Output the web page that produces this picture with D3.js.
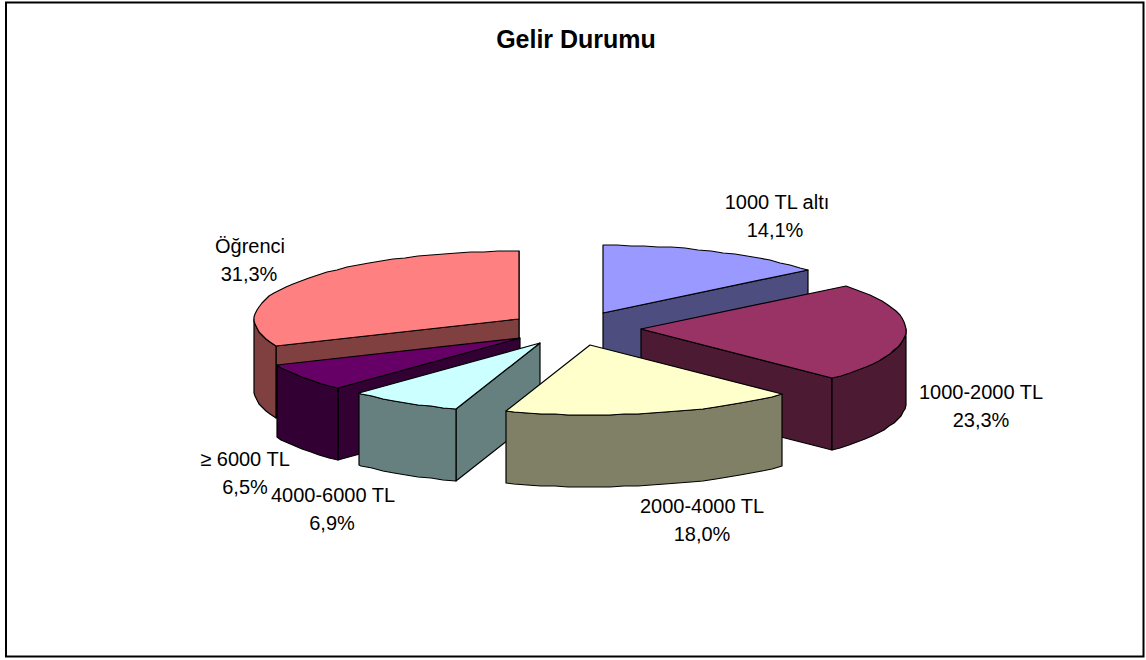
<!DOCTYPE html>
<html><head><meta charset="utf-8">
<script src="https://cdn.jsdelivr.net/npm/d3@7/dist/d3.min.js"></script>
<style>html,body{margin:0;padding:0;background:#fff}svg{display:block}text{font-family:"Liberation Sans",Arial,sans-serif;fill:#000}</style>
</head><body><svg id="c" width="1146" height="660"></svg>
<script>
const categories = ["1000 TL altı","1000-2000 TL","2000-4000 TL","4000-6000 TL","≥ 6000 TL","Öğrenci"];
const shares = [14.1,23.3,18.0,6.9,6.5,31.3];
const topColors = ["#9999FF","#993366","#FFFFCC","#CCFFFF","#660066","#FF8080"];
const sideColors = ["#4D4D80","#4D1A33","#808066","#668080","#330033","#804040"];
const paintOrder = [5,0,4,1,3,2];
const labelCenterX = [777,981,702,333,245,250];
const labelBaseline = [209,399,513,502,466,253];
const labelLine2X = [775,981,702,332,245,249];
const labelLineGap = 27.5;

const cx=574.5,cy=328.5,rx=265,ryBack=68,ryFront=69.5,depth=72,explode=0.25,nearSkew=3.5;
const svg=d3.select("#c");
const x=d3.scaleLinear().domain([-1,1]).range([cx-rx,cx+rx]);
const y=d3.scaleLinear().domain([-1,0,1]).range([cy-ryBack,cy,cy+ryFront]);
const skew=d3.scaleLinear().domain([0,1]).range([0,nearSkew]);
const pct=d3.formatLocale({decimal:",",thousands:".",grouping:[3],currency:["","%"]}).format(".1f");
const arcs=d3.pie().sort(null).value(d=>d)(shares);
const line=d3.line().x(d=>Math.round(d[0])).y(d=>Math.round(d[1]));
const STEP=Math.PI/60;

svg.append("rect").attr("x",6).attr("y",2.5).attr("width",1137.5).attr("height",654)
  .attr("fill","#fff").attr("stroke","#000").attr("stroke-width",2);

function angles(a,b){const r=d3.range(a,b,STEP);r.push(b);return r;}
const g=svg.append("g").attr("stroke","#000").attr("stroke-width",1.2).attr("stroke-linejoin","round");
paintOrder.forEach(i=>{
  const s=arcs[i],mid=(s.startAngle+s.endAngle)/2;
  const ox=explode*Math.sin(mid),oy=-explode*Math.cos(mid);
  const P=(t,r=1,dz=0)=>{
    const ux=ox+r*Math.sin(t),uy=oy-r*Math.cos(t);
    return [x(ux)+skew(Math.max(0,uy)),y(uy)+dz];
  };
  const A=P(0,0);
  const p0=P(s.startAngle),p1=P(s.endAngle);
  const face=(e)=>{
    g.append("path").attr("fill",sideColors[i])
      .attr("d",line([A,e,[e[0],e[1]+depth],[A[0],A[1]+depth],A])+"Z");
  };
  if(Math.cos(s.endAngle+Math.PI/2)<0 || Math.abs(Math.sin(s.endAngle))<1e-6) face(p1);
  if(Math.cos(s.startAngle-Math.PI/2)<0) face(p0);
  const a=Math.max(s.startAngle,Math.PI/2),b=Math.min(s.endAngle,3*Math.PI/2);
  if(b>a){
    const ts=angles(a,b);
    const upper=ts.map(t=>P(t));
    const lower=ts.map(t=>P(t,1,depth)).reverse();
    g.append("path").attr("fill",sideColors[i]).attr("d",line(upper.concat(lower))+"Z");
  }
  const rim=angles(s.startAngle,s.endAngle).map(t=>P(t));
  g.append("path").attr("fill",topColors[i]).attr("d",line([A].concat(rim))+"Z");
});

svg.append("text").attr("x",576).attr("y",48).attr("text-anchor","middle")
  .attr("font-size",25).attr("font-weight","bold").text("Gelir Durumu");
const t=svg.append("g").attr("font-size",20).attr("text-anchor","middle");
categories.forEach((c,i)=>{
  t.append("text").attr("x",labelCenterX[i]).attr("y",labelBaseline[i]).text(c);
  t.append("text").attr("x",labelLine2X[i]).attr("y",labelBaseline[i]+labelLineGap).text(pct(shares[i])+"%");
});
</script></body></html>
